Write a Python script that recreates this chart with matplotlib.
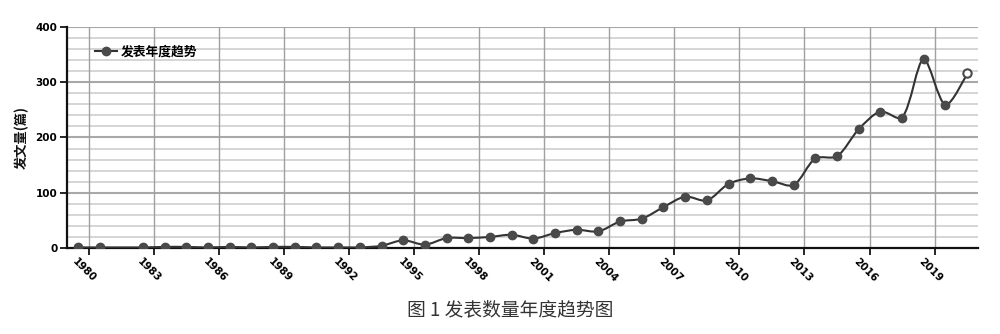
import numpy as np
import matplotlib
matplotlib.use('Agg')
import matplotlib.pyplot as plt
from matplotlib.path import Path
from matplotlib.patches import PathPatch
from matplotlib.lines import Line2D

# 数据（1982 年无数据）
years = [1980, 1981, 1983, 1984, 1985, 1986, 1987, 1988, 1989, 1990,
         1991, 1992, 1993, 1994, 1995, 1996, 1997, 1998, 1999, 2000,
         2001, 2002, 2003, 2004, 2005, 2006, 2007, 2008, 2009, 2010,
         2011, 2012, 2013, 2014, 2015, 2016, 2017, 2018, 2019, 2020, 2021]
counts = [1, 1, 1, 2, 2, 1, 2, 1, 2, 2,
          1, 1, 1, 4, 14, 6, 18, 18, 20, 24,
          17, 27, 33, 30, 48, 53, 74, 93, 86, 116,
          126, 121, 114, 162, 166, 215, 247, 236, 342, 259, 316]
label_years = [1980, 1983, 1986, 1989, 1992, 1995, 1998, 2001, 2004,
               2007, 2010, 2013, 2016, 2019]
y_ticks = [0, 100, 200, 300, 400]

series_name = '发表年度趋势'
y_title = '发文量(篇)'
caption = '图 1 发表数量年度趋势图'

cjk = ['Noto Sans CJK SC', 'DejaVu Sans']


def smooth_curve(pts, smooth=0.3):
    # 平滑曲线：控制点沿前后两点方向，只限制在全部点的外框内
    n = len(pts)
    lo = pts.min(axis=0)
    hi = pts.max(axis=0)
    cin = [p.copy() for p in pts]
    cout = [p.copy() for p in pts]
    for i in range(1, n - 1):
        p0, p, p2 = pts[i - 1], pts[i], pts[i + 1]
        v = (p2 - p0) * smooth
        d0 = np.hypot(*(p - p0))
        d1 = np.hypot(*(p2 - p))
        s = d0 + d1
        cin[i] = np.clip(p - v * d0 / s, lo, hi)
        cout[i] = np.clip(p + v * d1 / s, lo, hi)
    verts = [pts[0]]
    codes = [Path.MOVETO]
    for i in range(1, n):
        verts += [cout[i - 1], cin[i], pts[i]]
        codes += [Path.CURVE4] * 3
    return np.array(verts), codes


fig = plt.figure(figsize=(10, 3.34), dpi=100)
ax = fig.add_axes([0.067, 0.2575, 0.911, 0.6617])
ax.set_xlim(1979.5, 2021.5)
ax.set_ylim(0, 400)

# 网格
for v in range(20, 400, 20):
    if v % 100:
        ax.axhline(v, color='#d2d2d2', lw=1.3, zorder=0)
for v in y_ticks[1:]:
    ax.axhline(v, color='#a8a8a8', lw=1.5, zorder=0)
for yr in label_years:
    ax.axvline(yr + 0.5, color='#a0a0a0', lw=1.0, zorder=0)

# 平滑折线（在像素空间计算控制点）
pix = ax.transData.transform(np.column_stack([years, counts]))
verts, codes = smooth_curve(pix)
verts = ax.transData.inverted().transform(verts)
ax.add_patch(PathPatch(Path(verts, codes), fill=False, edgecolor='#333333',
                       lw=1.5, zorder=3))
ax.plot(years[:-1], counts[:-1], 'o', ms=6, color='#4a4a4a', zorder=4)
ax.plot(years[-1:], counts[-1:], 'o', ms=6, mfc='white', mec='#4a4a4a',
        mew=1.5, zorder=4)

# 坐标轴
for s in ['top', 'right']:
    ax.spines[s].set_visible(False)
for s in ['left', 'bottom']:
    ax.spines[s].set_linewidth(1.6)
    ax.spines[s].set_color('#111111')

ax.set_yticks(y_ticks)
ax.set_yticklabels([str(v) for v in y_ticks], fontsize=7.5, fontweight='bold',
                   family='DejaVu Sans')
ax.tick_params(axis='y', length=5, width=1.2, pad=2)

ax.set_xticks([yr + 0.5 for yr in label_years])
ax.set_xticklabels([])
ax.tick_params(axis='x', which='major', length=5, width=1.2, direction='out')
ax.set_xticks(label_years, minor=True)
ax.set_xticklabels([str(yr) for yr in label_years], minor=True, fontsize=7.5,
                   fontweight='bold', family='DejaVu Sans')
ax.tick_params(axis='x', which='minor', length=0, pad=6)
for lbl in ax.get_xticklabels(minor=True):
    lbl.set_rotation(-45)
    lbl.set_ha('left')
    lbl.set_va('top')
    lbl.set_rotation_mode('anchor')

fig.text(0.022, 0.588, y_title, rotation=90, ha='center', va='center',
         fontsize=9.5, fontweight='bold', family=cjk, color='#111111')

handle = Line2D([], [], color='#333333', lw=1.5, marker='o', ms=6,
                mfc='#4a4a4a', mec='#4a4a4a')
ax.legend([handle], [series_name], loc='upper left', bbox_to_anchor=(0.018, 0.97),
          frameon=False, handlelength=1.7, handletextpad=0.35, numpoints=1,
          prop={'family': cjk, 'size': 9.2, 'weight': 'bold'})

fig.text(0.51, 0.072, caption, ha='center', va='center', fontsize=13.5,
         family=cjk, fontweight='light', color='#333333')

fig.savefig('out.png', dpi=100, facecolor='white')
